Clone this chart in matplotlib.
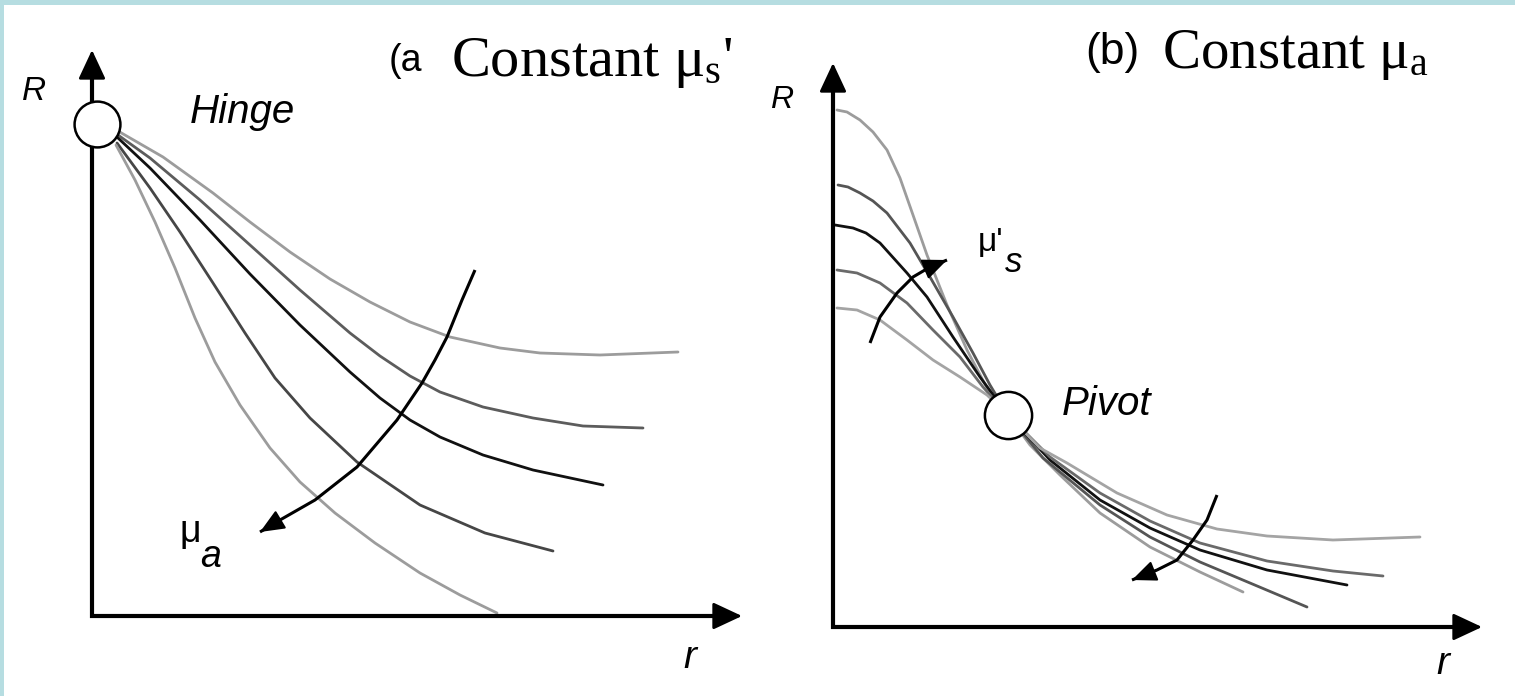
import matplotlib.pyplot as plt
from matplotlib.patches import Rectangle

plt.rcParams["mathtext.fontset"] = "custom"
plt.rcParams["mathtext.rm"] = "Liberation Serif"
plt.rcParams["mathtext.it"] = "Liberation Serif:italic"

SANS = "Liberation Sans"
SERIF = "Liberation Serif"

# (r, R) points measured from the axis corner of each panel

# panel (a): constant mu_s', curves fan out from the hinge as mu_a grows
hinge_a = (5, 492)
curve_a1 = [(26, 485), (71, 459), (121, 423), (158, 394), (198, 364), (238, 337), (278, 314),
            (318, 294), (358, 279), (408, 268), (448, 263), (508, 261), (586, 264)]
curve_a2 = [(26, 481), (58, 458), (108, 416), (158, 371), (208, 326), (258, 283), (288, 260),
            (318, 240), (348, 224), (391, 209), (441, 198), (491, 190), (551, 188)]
curve_a3 = [(26, 478), (58, 448), (108, 396), (158, 342), (208, 291), (258, 244), (288, 218),
            (318, 196), (348, 179), (391, 161), (441, 146), (511, 131)]
curve_a4 = [(25, 473), (58, 428), (88, 384), (121, 333), (153, 283), (183, 238), (218, 198),
            (265, 154), (328, 111), (393, 83), (461, 65)]
curve_a5 = [(24, 471), (43, 436), (63, 394), (83, 348), (103, 298), (123, 254), (148, 211),
            (178, 168), (208, 134), (243, 103), (283, 73), (328, 43), (368, 21), (405, 3)]
curves_a = [curve_a1, curve_a2, curve_a3, curve_a4, curve_a5]
colors_a = ["#9c9c9c", "#5c5c5c", "#111111", "#464646", "#9c9c9c"]
arrow_a = [(383, 346), (370, 316), (355, 279), (343, 256), (330, 233), (305, 196), (265, 149),
           (223, 116), (188, 96), (168, 84)]

# panel (b): constant mu_a, curves cross at the pivot as mu_s' grows
pivot_b = (175, 212)
curve_b1 = [(4, 517), (14, 515), (27, 507), (40, 495), (54, 477), (67, 449), (80, 412),
            (94, 372), (114, 322), (134, 277), (154, 239), (175, 212), (197, 182), (227, 152),
            (267, 114), (317, 80), (367, 55), (410, 35)]
curve_b2 = [(5, 442), (15, 440), (27, 434), (40, 426), (54, 414), (77, 384), (97, 350),
            (120, 310), (140, 274), (157, 242), (175, 212), (210, 169), (267, 122), (317, 90),
            (367, 65), (417, 44), (474, 20)]
curve_b3 = [(2, 402), (20, 399), (33, 394), (47, 384), (74, 354), (94, 330), (120, 290),
            (147, 250), (175, 212), (217, 167), (267, 127), (317, 99), (367, 77), (434, 57),
            (514, 42)]
curve_b4 = [(4, 357), (24, 354), (47, 344), (74, 324), (100, 297), (127, 270), (150, 240),
            (175, 212), (217, 170), (267, 134), (317, 106), (367, 84), (434, 66), (500, 56),
            (550, 51)]
curve_b5 = [(4, 319), (24, 317), (47, 307), (74, 287), (100, 267), (127, 250), (154, 232),
            (175, 212), (207, 179), (234, 164), (284, 134), (334, 112), (384, 98), (434, 91),
            (500, 87), (587, 90)]
curves_b = [curve_b1, curve_b2, curve_b3, curve_b4, curve_b5]
colors_b = ["#9c9c9c", "#555555", "#111111", "#6a6a6a", "#a4a4a4"]
arrow_b_up = [(37, 284), (47, 310), (64, 334), (80, 350), (97, 360), (114, 367)]
arrow_b_down = [(384, 132), (374, 107), (360, 87), (344, 67), (324, 57), (299, 47)]


def draw_frame(ax, r_tip, R_tip):
    ax.plot([0, 0, r_tip - 20], [R_tip - 20, 0, 0], color="black", lw=3,
            solid_joinstyle="miter", solid_capstyle="butt", zorder=3)
    head = dict(arrowstyle="-|>,head_length=0.9,head_width=0.42", color="black", lw=2,
                mutation_scale=20, shrinkA=0, shrinkB=0)
    ax.annotate("", xy=(0, R_tip), xytext=(0, R_tip - 30), arrowprops=head, zorder=3)
    ax.annotate("", xy=(r_tip, 0), xytext=(r_tip - 30, 0), arrowprops=head, zorder=3)


def draw_bent_arrow(ax, pts):
    rs = [p[0] for p in pts]
    Rs = [p[1] for p in pts]
    ax.plot(rs, Rs, color="black", lw=2.2, solid_capstyle="butt", zorder=4)
    ax.annotate("", xy=pts[-1], xytext=pts[-2],
                arrowprops=dict(arrowstyle="-|>,head_length=0.75,head_width=0.32",
                                color="black", lw=1.5, mutation_scale=20,
                                shrinkA=0, shrinkB=0), zorder=4)


def draw_curves(ax, curves, colors):
    for pts, c in zip(curves, colors):
        ax.plot([p[0] for p in pts], [p[1] for p in pts], color=c, lw=2.0,
                solid_capstyle="round", solid_joinstyle="round", zorder=2)


fig = plt.figure(figsize=(15.15, 6.96), dpi=100)
fig.patch.set_facecolor("white")

teal = "#b6dde1"
fig.add_artist(Rectangle((0, 0), 4 / 1515, 1, transform=fig.transFigure,
                         facecolor=teal, edgecolor="none"))
fig.add_artist(Rectangle((0, 1 - 5 / 696), 1, 5 / 696, transform=fig.transFigure,
                         facecolor=teal, edgecolor="none"))

# ---- panel (a)
ax_a = fig.add_axes([0, 0, 760 / 1515, 1])
ax_a.set_xlim(-92, 668)
ax_a.set_ylim(-80, 616)
ax_a.axis("off")

draw_frame(ax_a, 650, 566)
draw_curves(ax_a, curves_a, colors_a)
draw_bent_arrow(ax_a, arrow_a)
ax_a.plot([hinge_a[0]], [hinge_a[1]], "o", ms=33, mfc="white", mec="black", mew=1.8, zorder=5)

ax_a.text(-70, 516, "R", fontsize=24, family=SANS, style="italic")
ax_a.text(98, 493, "Hinge", fontsize=29, family=SANS, style="italic")
ax_a.text(88, 74, "μ", fontsize=27, family=SANS)
ax_a.text(108, 49, "a", fontsize=27, family=SANS, style="italic")
ax_a.text(591, -52, "r", fontsize=28, family=SANS, style="italic")
ax_a.text(297, 545, "(a", fontsize=27, family=SANS)
ax_a.text(359, 540, r"Constant $\mathrm{\mu_s}$'", fontsize=42, family=SERIF)

# ---- panel (b)
ax_b = fig.add_axes([760 / 1515, 0, 755 / 1515, 1])
ax_b.set_xlim(-73, 682)
ax_b.set_ylim(-69, 627)
ax_b.axis("off")

draw_frame(ax_b, 649, 564)
draw_curves(ax_b, curves_b, colors_b)
draw_bent_arrow(ax_b, arrow_b_up)
draw_bent_arrow(ax_b, arrow_b_down)
ax_b.plot([pivot_b[0]], [pivot_b[1]], "o", ms=34, mfc="white", mec="black", mew=1.8, zorder=5)

ax_b.text(-63, 519, "R", fontsize=23, family=SANS, style="italic")
ax_b.text(229, 212, "Pivot", fontsize=29, family=SANS, style="italic")
ax_b.text(145, 376, "μ'", fontsize=24, family=SANS)
ax_b.text(172, 355, "s", fontsize=25, family=SANS, style="italic")
ax_b.text(603, -47, "r", fontsize=28, family=SANS, style="italic")
ax_b.text(252, 563, "(b)", fontsize=32, family=SANS)
ax_b.text(329, 559, r"Constant $\mathrm{\mu_a}$", fontsize=41, family=SERIF)

fig.savefig("out.png", dpi=100)
